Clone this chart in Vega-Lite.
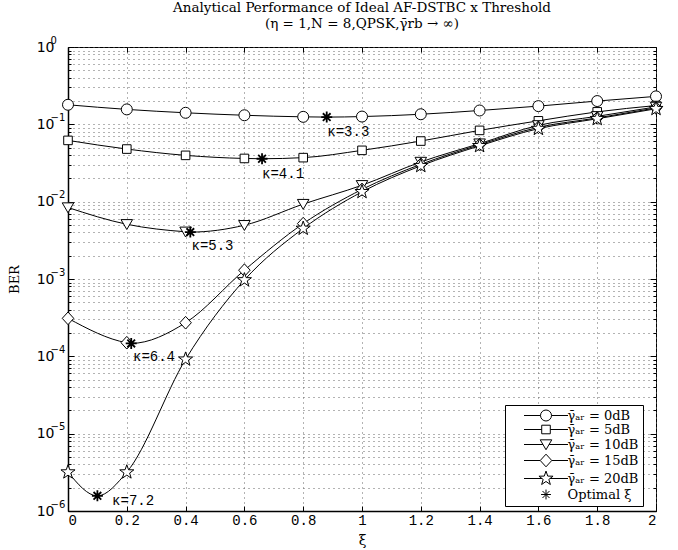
{
  "$schema": "https://vega.github.io/schema/vega-lite/v6.json",
  "width": 588,
  "height": 464,
  "autosize": "none",
  "padding": {"left": 68, "top": 47, "right": 22, "bottom": 39},
  "background": "white",
  "config": {
    "view": {"stroke": "black", "strokeWidth": 1},
    "axis": {"labelColor": "black", "tickColor": "black", "domainColor": "black", "titleColor": "black", "titleFontWeight": "normal", "labelOverlap": false}
  },
  "title": {
    "text": ["Analytical Performance of Ideal AF-DSTBC x Threshold", "(η = 1,N = 8,QPSK,γ̄rb → ∞)"],
    "font": "DejaVu Serif",
    "fontSize": 13.5,
    "fontWeight": "normal",
    "color": "black",
    "offset": 5,
    "lineHeight": 16
  },
  "datasets": {
    "curves": [
      {"series": "γ̄ₐᵣ = 0dB", "xi": 0, "ber": 0.179, "k": "g"},
      {"series": "γ̄ₐᵣ = 0dB", "xi": 0.2, "ber": 0.156, "k": "g"},
      {"series": "γ̄ₐᵣ = 0dB", "xi": 0.4, "ber": 0.141, "k": "g"},
      {"series": "γ̄ₐᵣ = 0dB", "xi": 0.6, "ber": 0.131, "k": "g"},
      {"series": "γ̄ₐᵣ = 0dB", "xi": 0.8, "ber": 0.125, "k": "g"},
      {"series": "γ̄ₐᵣ = 0dB", "xi": 0.88, "ber": 0.124, "k": "o"},
      {"series": "γ̄ₐᵣ = 0dB", "xi": 1.0, "ber": 0.126, "k": "g"},
      {"series": "γ̄ₐᵣ = 0dB", "xi": 1.2, "ber": 0.135, "k": "g"},
      {"series": "γ̄ₐᵣ = 0dB", "xi": 1.4, "ber": 0.151, "k": "g"},
      {"series": "γ̄ₐᵣ = 0dB", "xi": 1.6, "ber": 0.172, "k": "g"},
      {"series": "γ̄ₐᵣ = 0dB", "xi": 1.8, "ber": 0.2, "k": "g"},
      {"series": "γ̄ₐᵣ = 0dB", "xi": 2.0, "ber": 0.23, "k": "g"},
      {"series": "γ̄ₐᵣ = 5dB", "xi": 0, "ber": 0.062, "k": "g"},
      {"series": "γ̄ₐᵣ = 5dB", "xi": 0.2, "ber": 0.0479, "k": "g"},
      {"series": "γ̄ₐᵣ = 5dB", "xi": 0.4, "ber": 0.0397, "k": "g"},
      {"series": "γ̄ₐᵣ = 5dB", "xi": 0.6, "ber": 0.0362, "k": "g"},
      {"series": "γ̄ₐᵣ = 5dB", "xi": 0.66, "ber": 0.0359, "k": "o"},
      {"series": "γ̄ₐᵣ = 5dB", "xi": 0.8, "ber": 0.0371, "k": "g"},
      {"series": "γ̄ₐᵣ = 5dB", "xi": 1.0, "ber": 0.0461, "k": "g"},
      {"series": "γ̄ₐᵣ = 5dB", "xi": 1.2, "ber": 0.0608, "k": "g"},
      {"series": "γ̄ₐᵣ = 5dB", "xi": 1.4, "ber": 0.0835, "k": "g"},
      {"series": "γ̄ₐᵣ = 5dB", "xi": 1.6, "ber": 0.111, "k": "g"},
      {"series": "γ̄ₐᵣ = 5dB", "xi": 1.8, "ber": 0.145, "k": "g"},
      {"series": "γ̄ₐᵣ = 5dB", "xi": 2.0, "ber": 0.175, "k": "g"},
      {"series": "γ̄ₐᵣ = 10dB", "xi": 0, "ber": 0.0084, "k": "g"},
      {"series": "γ̄ₐᵣ = 10dB", "xi": 0.2, "ber": 0.0051, "k": "g"},
      {"series": "γ̄ₐᵣ = 10dB", "xi": 0.4, "ber": 0.00408, "k": "g"},
      {"series": "γ̄ₐᵣ = 10dB", "xi": 0.416, "ber": 0.00404, "k": "o"},
      {"series": "γ̄ₐᵣ = 10dB", "xi": 0.6, "ber": 0.00496, "k": "g"},
      {"series": "γ̄ₐᵣ = 10dB", "xi": 0.8, "ber": 0.0093, "k": "g"},
      {"series": "γ̄ₐᵣ = 10dB", "xi": 1.0, "ber": 0.0163, "k": "g"},
      {"series": "γ̄ₐᵣ = 10dB", "xi": 1.2, "ber": 0.0326, "k": "g"},
      {"series": "γ̄ₐᵣ = 10dB", "xi": 1.4, "ber": 0.0563, "k": "g"},
      {"series": "γ̄ₐᵣ = 10dB", "xi": 1.6, "ber": 0.097, "k": "g"},
      {"series": "γ̄ₐᵣ = 10dB", "xi": 1.8, "ber": 0.127, "k": "g"},
      {"series": "γ̄ₐᵣ = 10dB", "xi": 2.0, "ber": 0.168, "k": "g"},
      {"series": "γ̄ₐᵣ = 15dB", "xi": 0, "ber": 0.00031, "k": "g"},
      {"series": "γ̄ₐᵣ = 15dB", "xi": 0.2, "ber": 0.00015, "k": "g"},
      {"series": "γ̄ₐᵣ = 15dB", "xi": 0.215, "ber": 0.000147, "k": "o"},
      {"series": "γ̄ₐᵣ = 15dB", "xi": 0.4, "ber": 0.000272, "k": "g"},
      {"series": "γ̄ₐᵣ = 15dB", "xi": 0.6, "ber": 0.0013, "k": "g"},
      {"series": "γ̄ₐᵣ = 15dB", "xi": 0.8, "ber": 0.0052, "k": "g"},
      {"series": "γ̄ₐᵣ = 15dB", "xi": 1.0, "ber": 0.0144, "k": "g"},
      {"series": "γ̄ₐᵣ = 15dB", "xi": 1.2, "ber": 0.0304, "k": "g"},
      {"series": "γ̄ₐᵣ = 15dB", "xi": 1.4, "ber": 0.0545, "k": "g"},
      {"series": "γ̄ₐᵣ = 15dB", "xi": 1.6, "ber": 0.0915, "k": "g"},
      {"series": "γ̄ₐᵣ = 15dB", "xi": 1.8, "ber": 0.121, "k": "g"},
      {"series": "γ̄ₐᵣ = 15dB", "xi": 2.0, "ber": 0.163, "k": "g"},
      {"series": "γ̄ₐᵣ = 20dB", "xi": 0, "ber": 3.18e-6, "k": "g"},
      {"series": "γ̄ₐᵣ = 20dB", "xi": 0.1, "ber": 1.57e-6, "k": "o"},
      {"series": "γ̄ₐᵣ = 20dB", "xi": 0.2, "ber": 3.18e-6, "k": "g"},
      {"series": "γ̄ₐᵣ = 20dB", "xi": 0.4, "ber": 9.15e-5, "k": "g"},
      {"series": "γ̄ₐᵣ = 20dB", "xi": 0.6, "ber": 0.00097, "k": "g"},
      {"series": "γ̄ₐᵣ = 20dB", "xi": 0.8, "ber": 0.0045, "k": "g"},
      {"series": "γ̄ₐᵣ = 20dB", "xi": 1.0, "ber": 0.0134, "k": "g"},
      {"series": "γ̄ₐᵣ = 20dB", "xi": 1.2, "ber": 0.0291, "k": "g"},
      {"series": "γ̄ₐᵣ = 20dB", "xi": 1.4, "ber": 0.0527, "k": "g"},
      {"series": "γ̄ₐᵣ = 20dB", "xi": 1.6, "ber": 0.0879, "k": "g"},
      {"series": "γ̄ₐᵣ = 20dB", "xi": 1.8, "ber": 0.118, "k": "g"},
      {"series": "γ̄ₐᵣ = 20dB", "xi": 2.0, "ber": 0.159, "k": "g"}
    ],
    "labels": [
      {"xi": 0.882, "ber": 0.0794, "t": "κ=3.3"},
      {"xi": 0.66, "ber": 0.0231, "t": "κ=4.1"},
      {"xi": 0.42, "ber": 0.00265, "t": "κ=5.3"},
      {"xi": 0.221, "ber": 9.7e-5, "t": "κ=6.4"},
      {"xi": 0.15, "ber": 1.33e-6, "t": "κ=7.2"}
    ]
  },
  "layer": [
    {
      "data": {"name": "curves"},
      "mark": {"type": "line", "color": "black", "strokeWidth": 1, "interpolate": "monotone"},
      "encoding": {
        "x": {
          "field": "xi", "type": "quantitative",
          "scale": {"domain": [0, 2], "nice": false, "zero": false},
          "axis": {
            "orient": "bottom",
            "values": [0, 0.2, 0.4, 0.6, 0.8, 1, 1.2, 1.4, 1.6, 1.8, 2],
            "format": "~g",
            "grid": true, "gridDash": [1, 4], "gridColor": "#666", "gridWidth": 1,
            "tickSize": -5, "domainWidth": 1.5,
            "labelFont": "Liberation Mono", "labelFontSize": 14, "labelPadding": 7,
            "title": "ξ", "titleFont": "DejaVu Serif", "titleFontSize": 14,
            "titleY": 29, "titleBaseline": "middle"
          }
        },
        "y": {
          "field": "ber", "type": "quantitative",
          "scale": {"type": "log", "domain": [1e-6, 1], "nice": false},
          "axis": {
            "orient": "left",
            "values": [1e-6, 2e-6, 3e-6, 4e-6, 5e-6, 6e-6, 7e-6, 8e-6, 9e-6, 1e-5, 2e-5, 3e-5, 4e-5, 5e-5, 6e-5, 7e-5, 8e-5, 9e-5, 1e-4, 2e-4, 3e-4, 4e-4, 5e-4, 6e-4, 7e-4, 8e-4, 9e-4, 0.001, 0.002, 0.003, 0.004, 0.005, 0.006, 0.007, 0.008, 0.009, 0.01, 0.02, 0.03, 0.04, 0.05, 0.06, 0.07, 0.08, 0.09, 0.1, 0.2, 0.3, 0.4, 0.5, 0.6, 0.7, 0.8, 0.9, 1],
            "labelExpr": "abs(log(datum.value)/LN10 - round(log(datum.value)/LN10)) < 0.01 ? '10' : ''",
            "grid": true, "gridDash": [1, 4], "gridColor": "#666", "gridWidth": 1,
            "tickSize": {"condition": {"test": "abs(log(datum.value)/LN10 - round(log(datum.value)/LN10)) < 0.01", "value": -6}, "value": -3},
            "domainWidth": 1.5,
            "labelFont": "DejaVu Sans", "labelFontSize": 14, "labelPadding": 20,
            "title": "BER", "titleFont": "DejaVu Serif", "titleFontSize": 13,
            "titleX": -54, "titleY": 232, "titleAlign": "center", "titleBaseline": "middle", "titleAngle": -90
          }
        },
        "detail": {"field": "series"}
      }
    },
    {
      "data": {"name": "curves"},
      "transform": [{"filter": "datum.k === 'g'"}],
      "mark": {"type": "point", "filled": true, "fill": "white", "stroke": "black", "strokeWidth": 1, "size": 121, "opacity": 1},
      "encoding": {
        "x": {"field": "xi", "type": "quantitative", "scale": {"domain": [0, 2], "nice": false, "zero": false}, "axis": null},
        "y": {"field": "ber", "type": "quantitative", "scale": {"type": "log", "domain": [1e-6, 1], "nice": false}, "axis": null},
        "shape": {
          "field": "series", "type": "nominal",
          "scale": {
            "domain": ["γ̄ₐᵣ = 0dB", "γ̄ₐᵣ = 5dB", "γ̄ₐᵣ = 10dB", "γ̄ₐᵣ = 15dB", "γ̄ₐᵣ = 20dB"],
            "range": [
              "M1,0A1,1 0 1,1 -1,0A1,1 0 1,1 1,0Z",
              "M-0.78,-0.78L0.78,-0.78L0.78,0.78L-0.78,0.78Z",
              "M-1.05,-0.85L1.05,-0.85L0,0.95Z",
              "M0,-1.15L1.05,0L0,1.15L-1.05,0Z",
              "M0,-1.35L0.317,-0.437L1.284,-0.417L0.514,0.167L0.794,1.092L0,0.54L-0.794,1.092L-0.514,0.167L-1.284,-0.417L-0.317,-0.437Z"
            ]
          },
          "legend": null
        }
      }
    },
    {
      "data": {"name": "curves"},
      "transform": [{"filter": "datum.k === 'o'"}],
      "mark": {"type": "point", "shape": "M0,-1L0,1M-1,0L1,0M-0.7,-0.7L0.7,0.7M-0.7,0.7L0.7,-0.7", "filled": false, "stroke": "black", "strokeWidth": 1.8, "size": 121, "opacity": 1},
      "encoding": {
        "x": {"field": "xi", "type": "quantitative", "scale": {"domain": [0, 2], "nice": false, "zero": false}, "axis": null},
        "y": {
          "field": "ber", "type": "quantitative", "scale": {"type": "log", "domain": [1e-6, 1], "nice": false},
          "axis": {
            "orient": "left",
            "values": [1e-6, 1e-5, 1e-4, 0.001, 0.01, 0.1, 1],
            "labelExpr": "format(round(log(datum.value)/LN10), 'd')",
            "labelFont": "DejaVu Sans", "labelFontSize": 10, "labelPadding": 18, "labelOffset": -7,
            "labelAlign": "left",
            "ticks": false, "grid": false, "domain": false, "title": null
          }
        }
      }
    },
    {
      "data": {"name": "labels"},
      "mark": {"type": "text", "align": "left", "baseline": "middle", "font": "Liberation Mono", "fontSize": 14, "color": "black"},
      "encoding": {
        "x": {
          "field": "xi", "type": "quantitative", "scale": {"domain": [0, 2], "nice": false, "zero": false},
          "axis": {"orient": "top", "values": [0, 0.2, 0.4, 0.6, 0.8, 1, 1.2, 1.4, 1.6, 1.8, 2], "labels": false, "grid": false, "domain": false, "tickSize": -5, "title": null}
        },
        "y": {
          "field": "ber", "type": "quantitative", "scale": {"type": "log", "domain": [1e-6, 1], "nice": false},
          "axis": {
            "orient": "right",
            "values": [1e-6, 2e-6, 3e-6, 4e-6, 5e-6, 6e-6, 7e-6, 8e-6, 9e-6, 1e-5, 2e-5, 3e-5, 4e-5, 5e-5, 6e-5, 7e-5, 8e-5, 9e-5, 1e-4, 2e-4, 3e-4, 4e-4, 5e-4, 6e-4, 7e-4, 8e-4, 9e-4, 0.001, 0.002, 0.003, 0.004, 0.005, 0.006, 0.007, 0.008, 0.009, 0.01, 0.02, 0.03, 0.04, 0.05, 0.06, 0.07, 0.08, 0.09, 0.1, 0.2, 0.3, 0.4, 0.5, 0.6, 0.7, 0.8, 0.9, 1],
            "labels": false, "grid": false, "domain": false,
            "tickSize": {"condition": {"test": "abs(log(datum.value)/LN10 - round(log(datum.value)/LN10)) < 0.01", "value": -6}, "value": -3},
            "title": null
          }
        },
        "text": {"field": "t"}
      }
    },
    {
      "data": {"name": "curves"},
      "transform": [{"filter": "datum.series === 'none'"}],
      "mark": {"type": "point", "filled": false, "stroke": "black", "strokeWidth": 1, "size": 121, "opacity": 1},
      "encoding": {
        "x": {"field": "xi", "type": "quantitative", "scale": {"domain": [0, 2], "nice": false, "zero": false}, "axis": null},
        "y": {"field": "ber", "type": "quantitative", "scale": {"type": "log", "domain": [1e-6, 1], "nice": false}, "axis": null},
        "shape": {
          "field": "series", "type": "nominal",
          "scale": {
            "domain": ["γ̄ₐᵣ = 0dB", "γ̄ₐᵣ = 5dB", "γ̄ₐᵣ = 10dB", "γ̄ₐᵣ = 15dB", "γ̄ₐᵣ = 20dB", "Optimal ξ"],
            "range": [
              "M-4,0L-1,0M1,0L4,0M1,0A1,1 0 1,1 -1,0A1,1 0 1,1 1,0Z",
              "M-4,0L-0.78,0M0.78,0L4,0M-0.78,-0.78L0.78,-0.78L0.78,0.78L-0.78,0.78Z",
              "M-4,0L-0.554,0M0.554,0L4,0M-1.05,-0.85L1.05,-0.85L0,0.95Z",
              "M-4,0L-1.05,0M1.05,0L4,0M0,-1.15L1.05,0L0,1.15L-1.05,0Z",
              "M-4,0L-0.734,0M0.734,0L4,0M0,-1.35L0.317,-0.437L1.284,-0.417L0.514,0.167L0.794,1.092L0,0.54L-0.794,1.092L-0.514,0.167L-1.284,-0.417L-0.317,-0.437Z",
              "M0,-0.9L0,0.9M-0.9,0L0.9,0M-0.64,-0.64L0.64,0.64M-0.64,0.64L0.64,-0.64"
            ]
          },
          "legend": {
            "title": null,
            "orient": "none",
            "legendX": 437,
            "legendY": 358,
            "strokeColor": "black",
            "fillColor": "white",
            "padding": 4,
            "symbolOffset": 30.5,
            "labelOffset": 15,
            "labelFont": "DejaVu Serif",
            "labelFontSize": 13,
            "labelColor": "black",
            "labelLimit": 200,
            "symbolSize": 121,
            "symbolType": "circle",
            "symbolStrokeColor": "black",
            "symbolStrokeWidth": 1,
            "rowPadding": 0
          }
        }
      }
    }
  ],
  "resolve": {
    "scale": {"shape": "independent"},
    "axis": {"x": "independent", "y": "independent"},
    "legend": {"shape": "independent"}
  }
}
